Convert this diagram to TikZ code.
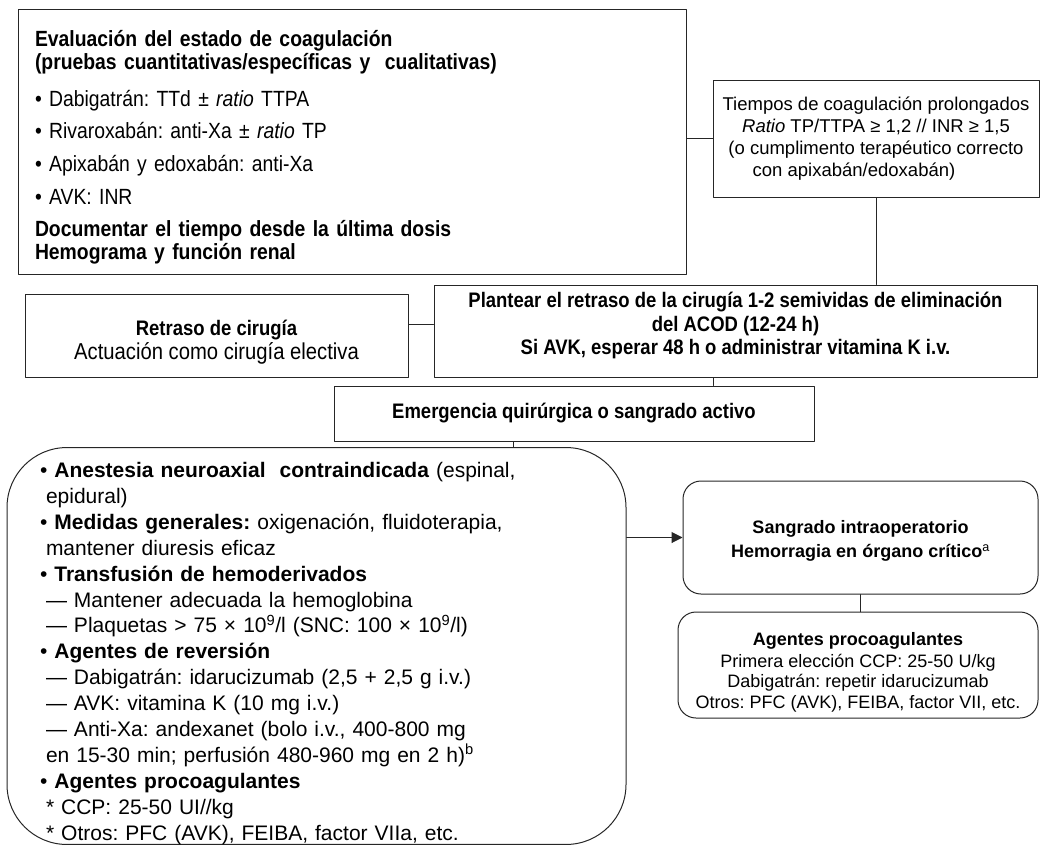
\documentclass[tikz,border=0pt]{standalone}
\usepackage{fontspec}
\setmainfont{Liberation Sans}
\newfontfamily\narrowfont[FakeStretch=0.88]{Liberation Sans}
\usetikzlibrary{arrows.meta}

\begin{document}
\frenchspacing
\begin{tikzpicture}[x=1pt,y=-1pt,line cap=round,line join=round,
  box/.style={draw=black!85,line width=1pt,rectangle,inner sep=0pt},
  rbox/.style={box,rounded corners=18pt},
  link/.style={draw=black!85,line width=1pt},
  narrowbold/.style={font=\narrowfont\bfseries\fontsize{21}{23.5}\selectfont}]
  \useasboundingbox (0,0) rectangle (1040,845);
  \node[box,font=\narrowfont\fontsize{22}{23}\selectfont,minimum width=668pt,minimum height=264pt,
    text width=634pt,align=left] (eval) at (352,142)
    {\rule{0pt}{26pt}\textbf{Evaluación del estado de coagulación}\\
     \textbf{(pruebas cuantitativas/específicas y\ \ cualitativas)}\\[14pt]
     • Dabigatrán: TTd ± \textit{ratio} TTPA\\[9pt]
     • Rivaroxabán: anti-Xa ± \textit{ratio} TP\\[10pt]
     • Apixabán y edoxabán: anti-Xa\\[10pt]
     • AVK: INR\\[9pt]
     \textbf{Documentar el tiempo desde la última dosis}\\
     \textbf{Hemograma y función renal}};
  \node[box,font=\fontsize{18.5}{22}\selectfont,minimum width=326pt,minimum height=116pt,
    align=center] (tiempos) at (876,139)
    {Tiempos de coagulación prolongados\\
     \textit{Ratio} TP/TTPA ≥ 1,2 // INR ≥ 1,5\\
     (o cumplimento terapéutico correcto\\
     \hspace*{-44pt}con apixabán/edoxabán)};
  \node[box,font=\narrowfont\fontsize{23}{24}\selectfont,minimum width=383pt,minimum height=83pt,
    align=center] (retraso) at (216.5,335.5)
    {\rule{0pt}{29pt}{\bfseries\fontsize{21}{24}\selectfont Retraso de cirugía}\\Actuación como cirugía electiva};
  \node[box,narrowbold,minimum width=603pt,minimum height=92pt,align=center] (plantear) at (735.5,331)
    {Plantear el retraso de la cirugía 1-2 semividas de eliminación\\
     del ACOD (12-24 h)\\
     Si AVK, esperar 48 h o administrar vitamina K i.v.\rule[-15pt]{0pt}{1pt}};
  \node[box,narrowbold,minimum width=480pt,minimum height=55pt,align=center] (emerg) at (574,413.5)
    {Emergencia quirúrgica o sangrado activo};
  \node[box,rounded corners=60pt,font=\fontsize{21}{25.9}\selectfont,minimum width=619pt,minimum height=394pt,
    text width=553pt,align=left] (medidas) at (316.5,646)
    {\rule{0pt}{30pt}• \textbf{Anestesia neuroaxial\ \ contraindicada} (espinal,\\
     \hspace*{6pt}epidural)\\
     • \textbf{Medidas generales:} oxigenación, fluidoterapia,\\
     \hspace*{6pt}mantener diuresis eficaz\\
     • \textbf{Transfusión de hemoderivados}\\
     \hspace*{6pt}— Mantener adecuada la hemoglobina\\
     \hspace*{6pt}— Plaquetas > 75 × 10\textsuperscript{9}/l (SNC: 100 × 10\textsuperscript{9}/l)\\
     • \textbf{Agentes de reversión}\\
     \hspace*{6pt}— Dabigatrán: idarucizumab (2,5 + 2,5 g i.v.)\\
     \hspace*{6pt}— AVK: vitamina K (10 mg i.v.)\\
     \hspace*{6pt}— Anti-Xa: andexanet (bolo i.v., 400-800 mg\\
     \hspace*{6pt}en 15-30 min; perfusión 480-960 mg en 2 h)\textsuperscript{b}\\
     • \textbf{Agentes procoagulantes}\\
     \hspace*{6pt}* CCP: 25-50 UI//kg\\
     \hspace*{6pt}* Otros: PFC (AVK), FEIBA, factor VIIa, etc.};
  \node[rbox,font=\bfseries\fontsize{18}{24}\selectfont,minimum width=355pt,minimum height=113pt,
    align=center] (sangrado) at (860.5,537.5)
    {\rule{0pt}{20pt}Sangrado intraoperatorio\\Hemorragia en órgano crítico\textsuperscript{\mdseries a}};
  \node[rbox,font=\fontsize{18}{20.5}\selectfont,minimum width=360pt,minimum height=106pt,
    align=center] (procoag) at (858,665)
    {\rule{0pt}{27pt}\textbf{Agentes procoagulantes}\\[1.5pt]
     Primera elección CCP: 25-50 U/kg\\
     Dabigatrán: repetir idarucizumab\\
     Otros: PFC (AVK), FEIBA, factor VII, etc.};
  \draw[link] (eval.east |- tiempos.west) -- (tiempos.west);
  \draw[link] (tiempos.south) -- (tiempos.south |- plantear.north);
  \draw[link] ([yshift=7pt]plantear.west) -- ([yshift=7pt]plantear.west -| retraso.east);
  \draw[link] ([xshift=-22pt]plantear.south) -- ([xshift=-22pt]plantear.south |- emerg.north);
  \draw[link] ([xshift=-61pt]emerg.south) -- ([xshift=-61pt]emerg.south |- medidas.north);
  \draw[link,-{Triangle[length=11pt,width=11pt]}] (medidas.east |- sangrado.west) -- (sangrado.west);
  \draw[link] (sangrado.south) -- (sangrado.south |- procoag.north);
\end{tikzpicture}
\end{document}
